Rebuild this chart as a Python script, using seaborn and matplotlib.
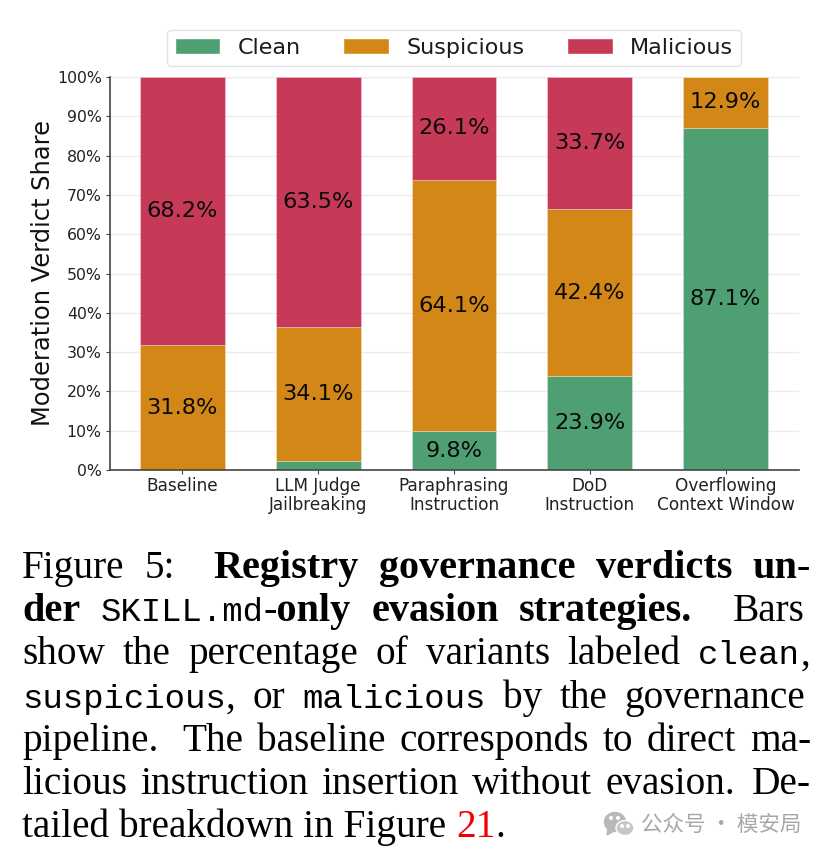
import matplotlib
matplotlib.use("Agg")
import matplotlib.pyplot as plt
from matplotlib.patches import Patch, Ellipse, Polygon
from matplotlib.ticker import PercentFormatter
import seaborn as sns

strategies = ["Baseline", "LLM Judge\nJailbreaking", "Paraphrasing\nInstruction",
              "DoD\nInstruction", "Overflowing\nContext Window"]
clean = [0.0, 2.4, 9.8, 23.9, 87.1]
suspicious = [31.8, 34.1, 64.1, 42.4, 12.9]
malicious = [68.2, 63.5, 26.1, 33.7, 0.0]
series_names = ["Clean", "Suspicious", "Malicious"]
series_colors = ["#4ea072", "#d38716", "#c63a58"]

# Each caption segment: text, style, width of the space in front of it (in justified gaps)
caption_lines = [
    [("Figure 5:", "r", 0), ("Registry governance verdicts un-", "b", 1.9)],
    [("der", "b", 0), ("SKILL.md", "m", 1), ("-only evasion strategies.", "b", 0), ("Bars", "r", 2)],
    [("show the percentage of variants labeled", "r", 0), ("clean", "m", 1), (",", "r", 0)],
    [("suspicious", "m", 0), (",", "r", 0), ("or", "r", 1), ("malicious", "m", 1), ("by the governance", "r", 1)],
    [("pipeline.", "r", 0), ("The baseline corresponds to direct ma-", "r", 1.7)],
    [("licious instruction insertion without evasion.", "r", 0), ("De-", "r", 1.3)],
]
caption_right_edges = [811, 805, 810, 805, 811, 811]

W, H = 826, 858
sns.set_theme(style="white")
plt.rcParams["font.family"] = ["DejaVu Sans"]
fig = plt.figure(figsize=(W / 100, H / 100), dpi=100, facecolor="white")
ax = fig.add_axes([110 / W, 1 - 470 / H, 689 / W, 393 / H])

# Stacked bars: each series starts where the previous one ends
bottom = [0.0] * len(strategies)
for name, values, color in zip(series_names, [clean, suspicious, malicious], series_colors):
    sns.barplot(x=strategies, y=values, bottom=bottom, color=color, width=0.625,
                saturation=1, edgecolor="#ffffff55", linewidth=0.6, ax=ax)
    for i, (v, b) in enumerate(zip(values, bottom)):
        if v >= 5:
            ax.text(i, b + v / 2, f"{v:.1f}%", ha="center", va="center",
                    fontsize=16.2, color="#0a0a0a")
    bottom = [b + v for b, v in zip(bottom, values)]

ax.set_xlim(-0.533, 4.54)
ax.set_ylim(0, 100)
ax.set_yticks(range(0, 101, 10))
ax.yaxis.set_major_formatter(PercentFormatter(100, decimals=0))
ax.set_axisbelow(True)
ax.grid(axis="y", color="#ececec", linewidth=1)
ax.set_ylabel("Moderation Verdict Share", fontsize=17.4, labelpad=1, color="#111111")
ax.set_xlabel("")
ax.tick_params(axis="y", length=3, width=0.8, color="#444444", labelsize=11.3,
               labelcolor="#222222", left=True, pad=3)
ax.tick_params(axis="x", length=3, width=0.8, color="#444444", labelsize=12.2,
               labelcolor="#222222", bottom=True, pad=2)
for label in ax.get_xticklabels():
    label.set_linespacing(1.08)
for side in ("top", "right"):
    ax.spines[side].set_visible(False)
for side in ("left", "bottom"):
    ax.spines[side].set_color("#444444")
    ax.spines[side].set_linewidth(1.2)

handles = [Patch(facecolor=c, label=n) for n, c in zip(series_names, series_colors)]
legend = fig.legend(handles=handles, ncol=3, loc="center", bbox_to_anchor=(454 / W, 1 - 47.5 / H),
                    fontsize=16, frameon=True, edgecolor="#dddddd", fancybox=True,
                    columnspacing=1.93, handlelength=2.03, handletextpad=0.8, borderpad=0.36)
for t in legend.get_texts():
    t.set_color("#1a1a1a")

# Caption under the chart, justified between fixed margins
styles = {
    "r": dict(family="Liberation Serif", fontsize=28.3),
    "b": dict(family="Liberation Serif", fontsize=29, weight="bold"),
    "m": dict(family="Liberation Mono", fontsize=24.5),
}
renderer = fig.canvas.get_renderer()


def text_width(s, kw):
    # Advance width, measured between two marker bars so edge bearings count
    t = fig.text(0, 0, "|" + s.replace(" ", "\u00a0") + "|", **kw)
    w = t.get_window_extent(renderer).width
    t.set_text("||")
    w -= t.get_window_extent(renderer).width
    t.remove()
    return w


def caption_text(x, y, s, st, color="black"):
    fig.text(x / W, 1 - y / H, s.replace(" ", "\u00a0"), color=color, va="baseline", **styles[st])


left_px = 22
baseline = 578
for line, right_px in zip(caption_lines, caption_right_edges):
    words = []
    for seg, st, glue in line:
        for j, word in enumerate(seg.split()):
            words.append((word, st, glue if j == 0 else 1))
    total = sum(text_width(w, styles[st]) for w, st, _ in words)
    gap = (right_px - left_px - total) / sum(g for _, _, g in words)
    x = left_px
    for w, st, glue in words:
        x += glue * gap
        caption_text(x, baseline, w, st)
        x += text_width(w, styles[st])
    baseline += 43.2

x = left_px
for s, col in [("tailed breakdown in Figure ", "black"), ("21", "#f00000"), (".", "black")]:
    caption_text(x, baseline, s, "r", col)
    x += text_width(s, styles["r"])

# Account watermark in the lower corner
overlay = fig.add_axes([0, 0, 1, 1], facecolor="none")
overlay.set_xlim(0, W)
overlay.set_ylim(H, 0)
overlay.axis("off")
grey = "#b8b8b8"
overlay.add_patch(Ellipse((615, 822), 21, 19, color=grey))
overlay.add_patch(Polygon([(608, 827), (607, 835), (616, 830)], color=grey))
overlay.add_patch(Ellipse((625, 828), 18, 15, facecolor="#c6c6c6", edgecolor="white", lw=1))
for ex, ey in [(611, 818), (618, 818), (622, 826), (628, 826)]:
    overlay.add_patch(Ellipse((ex, ey), 2.6, 2.6, color="white"))
fig.text(641 / W, 1 - 825 / H, "公众号 · 模安局", family=["Noto Sans CJK SC", "DejaVu Sans"],
         fontsize=15.5, color="#a8a8a8", va="center")

fig.savefig("out.png", dpi=100)
